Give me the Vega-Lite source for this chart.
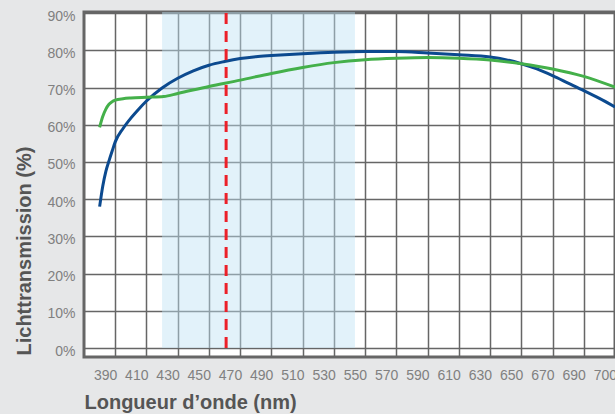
{
  "$schema": "https://vega.github.io/schema/vega-lite/v6.json",
  "width": 531,
  "height": 345,
  "autosize": "none",
  "padding": {"left": 84, "top": 12, "right": 0, "bottom": 57},
  "background": "#e6e7e8",
  "config": {
    "view": {"fill": "white", "stroke": "#666666", "strokeWidth": 3},
    "axis": {
      "grid": true,
      "gridColor": "#666666",
      "gridWidth": 1.5,
      "ticks": false,
      "domain": false,
      "labelFont": "Liberation Sans",
      "labelFontSize": 14,
      "labelColor": "#808080",
      "labelFlush": false,
      "labelOverlap": false,
      "labelBound": false,
      "titleFont": "Liberation Sans",
      "titleFontSize": 20,
      "titleFontWeight": "bold",
      "titleColor": "#555555"
    }
  },
  "datasets": {
    "band": [{"from": 420, "to": 543.5}],
    "marker": [{"wl": 461}],
    "curves": [
      {"wl": 380, "series": "blue", "t": 38.0},
      {"wl": 382, "series": "blue", "t": 43.5},
      {"wl": 384, "series": "blue", "t": 47.5},
      {"wl": 386, "series": "blue", "t": 50.3},
      {"wl": 388, "series": "blue", "t": 52.9},
      {"wl": 390, "series": "blue", "t": 55.4},
      {"wl": 395, "series": "blue", "t": 59.0},
      {"wl": 400, "series": "blue", "t": 61.8},
      {"wl": 405, "series": "blue", "t": 64.2},
      {"wl": 410, "series": "blue", "t": 66.4},
      {"wl": 420, "series": "blue", "t": 69.9},
      {"wl": 430, "series": "blue", "t": 72.5},
      {"wl": 440, "series": "blue", "t": 74.5},
      {"wl": 450, "series": "blue", "t": 76.0},
      {"wl": 460, "series": "blue", "t": 77.0},
      {"wl": 470, "series": "blue", "t": 77.8},
      {"wl": 480, "series": "blue", "t": 78.3},
      {"wl": 490, "series": "blue", "t": 78.6},
      {"wl": 510, "series": "blue", "t": 79.1},
      {"wl": 530, "series": "blue", "t": 79.5},
      {"wl": 550, "series": "blue", "t": 79.7},
      {"wl": 570, "series": "blue", "t": 79.7},
      {"wl": 590, "series": "blue", "t": 79.3},
      {"wl": 610, "series": "blue", "t": 78.8},
      {"wl": 630, "series": "blue", "t": 78.2},
      {"wl": 640, "series": "blue", "t": 77.5},
      {"wl": 650, "series": "blue", "t": 76.4},
      {"wl": 660, "series": "blue", "t": 75.0},
      {"wl": 670, "series": "blue", "t": 73.2},
      {"wl": 680, "series": "blue", "t": 71.2},
      {"wl": 690, "series": "blue", "t": 69.2},
      {"wl": 700, "series": "blue", "t": 67.1},
      {"wl": 710, "series": "blue", "t": 64.8},
      {"wl": 380, "series": "green", "t": 59.3},
      {"wl": 382, "series": "green", "t": 62.2},
      {"wl": 384, "series": "green", "t": 64.2},
      {"wl": 386, "series": "green", "t": 65.5},
      {"wl": 388, "series": "green", "t": 66.2},
      {"wl": 390, "series": "green", "t": 66.6},
      {"wl": 395, "series": "green", "t": 67.0},
      {"wl": 400, "series": "green", "t": 67.2},
      {"wl": 410, "series": "green", "t": 67.4},
      {"wl": 421, "series": "green", "t": 67.6},
      {"wl": 430, "series": "green", "t": 68.4},
      {"wl": 450, "series": "green", "t": 70.3},
      {"wl": 470, "series": "green", "t": 72.0},
      {"wl": 490, "series": "green", "t": 73.8},
      {"wl": 510, "series": "green", "t": 75.4},
      {"wl": 530, "series": "green", "t": 76.7},
      {"wl": 550, "series": "green", "t": 77.5},
      {"wl": 570, "series": "green", "t": 77.9},
      {"wl": 590, "series": "green", "t": 78.1},
      {"wl": 610, "series": "green", "t": 77.9},
      {"wl": 630, "series": "green", "t": 77.4},
      {"wl": 650, "series": "green", "t": 76.4},
      {"wl": 670, "series": "green", "t": 75.0},
      {"wl": 690, "series": "green", "t": 73.0},
      {"wl": 710, "series": "green", "t": 70.1}
    ]
  },
  "layer": [
    {
      "data": {"name": "band"},
      "mark": {"type": "rect", "fill": "#bfe3f4", "opacity": 0.45},
      "encoding": {
        "x": {"field": "from", "type": "quantitative", "scale": {"domain": [370, 710], "nice": false, "zero": false}},
        "x2": {"field": "to"},
        "y": {"datum": 0, "type": "quantitative", "scale": {"domain": [-2.4, 90.3], "nice": false, "zero": false}},
        "y2": {"datum": 90.3}
      }
    },
    {
      "data": {"name": "curves"},
      "mark": {"type": "line", "strokeWidth": 3, "interpolate": "monotone"},
      "encoding": {
        "x": {
          "field": "wl",
          "type": "quantitative",
          "scale": {"domain": [370, 710], "nice": false, "zero": false},
          "axis": {
            "values": [390, 410, 430, 450, 470, 490, 510, 530, 550, 570, 590, 610, 630, 650, 670, 690, 710],
            "tickCount": 100,
            "labelExpr": "datum.value == 710 ? '700' : datum.label",
            "labelAlign": "right",
            "labelOffset": 1.5,
            "labelPadding": 11,
            "title": "Longueur d’onde (nm)",
            "titleAnchor": "start",
            "titleAlign": "left",
            "titleBaseline": "alphabetic",
            "titleX": 0,
            "titleY": 51
          }
        },
        "y": {
          "field": "t",
          "type": "quantitative",
          "scale": {"domain": [-2.4, 90.3], "nice": false, "zero": false},
          "axis": {
            "values": [0, 10, 20, 30, 40, 50, 60, 70, 80, 90],
            "tickCount": 100,
            "labelExpr": "datum.value + '%'",
            "labelPadding": 9,
            "labelOffset": 3,
            "title": "Lichttransmission (%)",
            "titleAngle": 270,
            "titleAlign": "left",
            "titleBaseline": "alphabetic",
            "titleX": -54,
            "titleY": 343
          }
        },
        "color": {
          "field": "series",
          "type": "nominal",
          "scale": {"domain": ["blue", "green"], "range": ["#0c4a8f", "#44b04a"]},
          "legend": null
        }
      }
    },
    {
      "data": {"name": "marker"},
      "mark": {"type": "rule", "color": "#ec2029", "strokeWidth": 3, "strokeDash": [11, 7]},
      "encoding": {
        "x": {"field": "wl", "type": "quantitative", "scale": {"domain": [370, 710], "nice": false, "zero": false}},
        "y": {"datum": 0, "type": "quantitative"},
        "y2": {"datum": 90.3}
      }
    }
  ]
}
